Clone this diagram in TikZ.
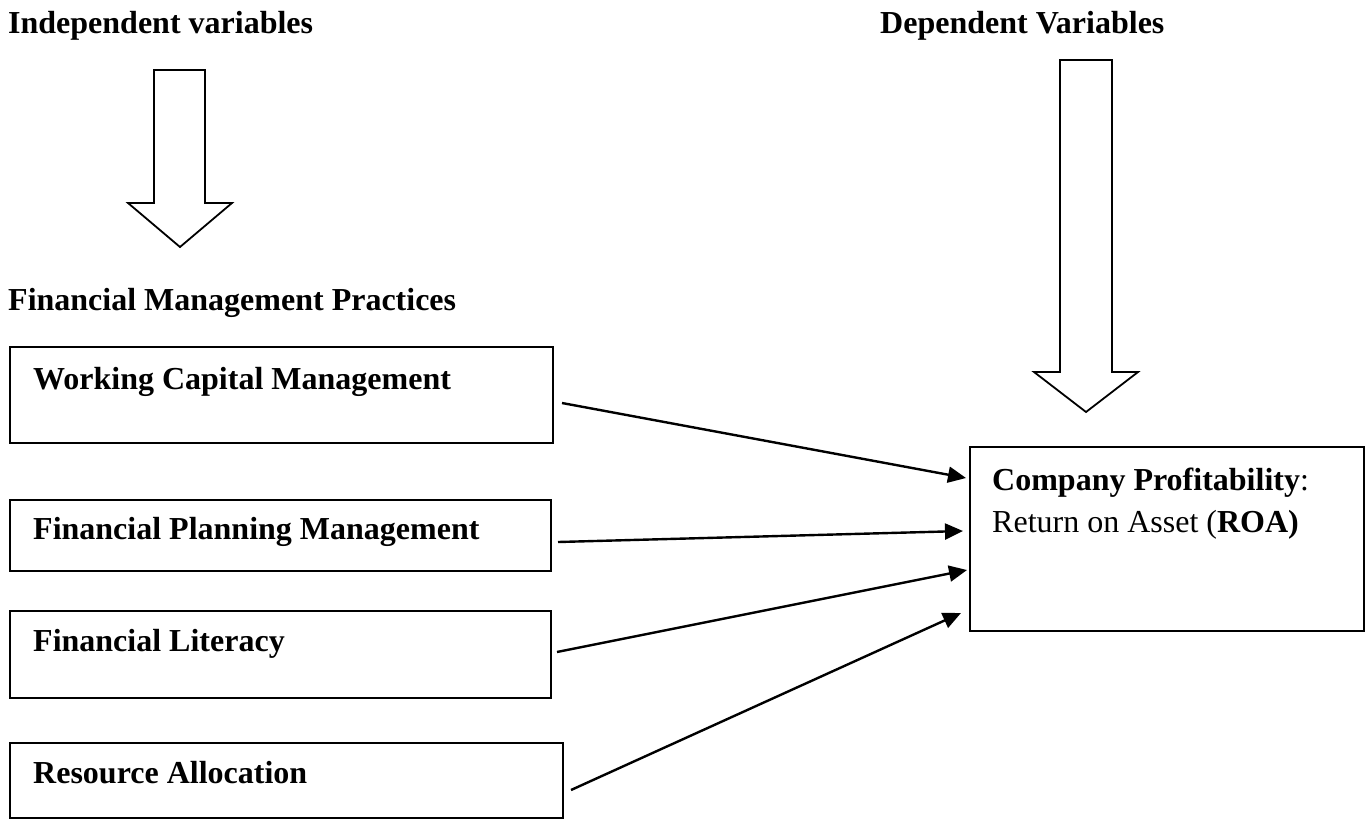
\documentclass[tikz,border=0pt]{standalone}
\usepackage{fontspec}
\setmainfont{Liberation Serif}
\usetikzlibrary{arrows.meta}
\tikzset{
  box/.style={draw, line width=1.8pt, inner sep=0pt, outer sep=0pt},
  lbl/.style={anchor=base west, inner sep=0pt, font=\fontsize{32}{38}\selectfont\bfseries},
  txt/.style={anchor=base west, inner sep=0pt, font=\fontsize{32}{38}\selectfont},
  conn/.style={line width=2.4pt, -{Triangle[length=18pt, width=16pt]}},
  blockarrow/.style={draw, line width=1.8pt, line join=miter, fill=white},
}
\begin{document}
\begin{tikzpicture}[x=1pt, y=-1pt]
\useasboundingbox (0,0) rectangle (1372,820);
\fill[white] (0,0) rectangle (1372,820);

% headings
\node[lbl] (hind) at (8,33) {Independent variables};
\node[lbl] (hdep) at (880,33) {Dependent Variables};
\node[lbl] (hfmp) at (8,310) {Financial Management Practices};

% block arrows
\draw[blockarrow] (154,70) -- (205,70) -- (205,203) -- (232,203) -- (180,247) -- (128,203) -- (154,203) -- cycle;
\draw[blockarrow] (1060,60) -- (1112,60) -- (1112,372) -- (1138,372) -- (1086,412) -- (1034,372) -- (1060,372) -- cycle;

% boxes
\node[box, minimum width=543pt, minimum height=96pt] (wcm) at (281.5,395) {};
\node[box, minimum width=541pt, minimum height=71pt] (fpm) at (280.5,535.5) {};
\node[box, minimum width=541pt, minimum height=87pt] (fl) at (280.5,654.5) {};
\node[box, minimum width=553pt, minimum height=75pt] (ra) at (286.5,780.5) {};
\node[box, minimum width=394pt, minimum height=184pt] (cp) at (1167,539) {};

% labels
\node[lbl] (twcm) at (33,389) {Working Capital Management};
\node[lbl] (tfpm) at (33,539) {Financial Planning Management};
\node[lbl] (tfl) at (33,651) {Financial Literacy};
\node[lbl] (tra) at (33,783) {Resource Allocation};
\node[txt] (tcp1) at (992,490) {\textbf{Company Profitability}:};
\node[txt] (tcp2) at (992,532) {Return on Asset (\textbf{ROA)}};

% connectors
\coordinate (s1) at ([shift={(9,8)}]wcm.east);
\coordinate (e1) at ([shift={(-4,-61)}]cp.west);
\coordinate (s2) at ([shift={(7,6.5)}]fpm.east);
\coordinate (e2) at ([shift={(-7,-8)}]cp.west);
\coordinate (s3) at ([shift={(6,-2.5)}]fl.east);
\coordinate (e3) at ([shift={(-3,31)}]cp.west);
\coordinate (s4) at ([shift={(8,9.5)}]ra.east);
\coordinate (e4) at ([shift={(-9,74)}]cp.west);
\draw[conn] (s1) -- (e1);
\draw[conn] (s2) -- (e2);
\draw[conn] (s3) -- (e3);
\draw[conn] (s4) -- (e4);
\end{tikzpicture}
\end{document}
